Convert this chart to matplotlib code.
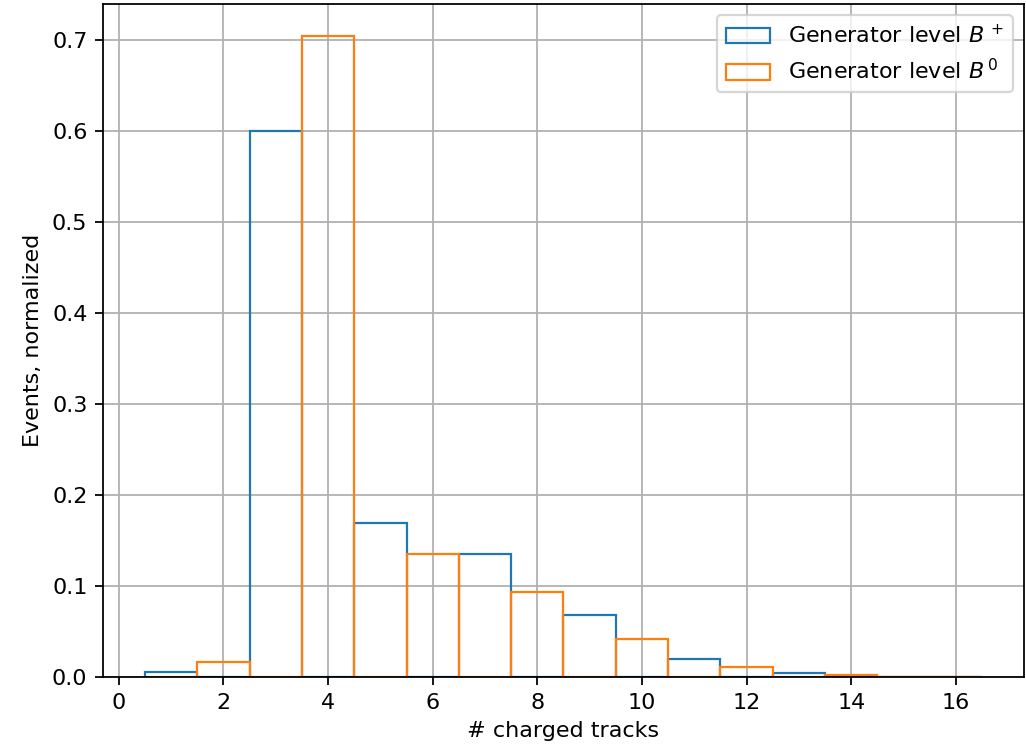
import numpy as np
import matplotlib
matplotlib.use("Agg")
import matplotlib.pyplot as plt

# number of charged tracks (bin centres) and normalized fractions
tracks = np.arange(1, 17)
bplus = [0.005, 0.0, 0.600, 0.0, 0.169, 0.0, 0.135, 0.0, 0.068, 0.0, 0.020, 0.0, 0.004, 0.0, 0.0004, 0.0]
bzero = [0.0, 0.017, 0.0, 0.704, 0.0, 0.135, 0.0, 0.093, 0.0, 0.042, 0.0, 0.011, 0.0, 0.002, 0.0, 0.0003]

edges = np.arange(0.5, 17.5, 1)

fig = plt.figure(figsize=(6.4125, 4.6875), dpi=160)
ax = fig.add_subplot(111)
ax.hist(tracks, bins=edges, weights=bplus, histtype="step", linewidth=1.0, label="Generator level $B^{\\,+}$")
ax.hist(tracks, bins=edges, weights=bzero, histtype="step", linewidth=1.0, label="Generator level $B^{\\,0}$")
ax.set_xlabel("# charged tracks")
ax.set_ylabel("Events, normalized")
ax.grid(True)
ax.legend(loc="upper right")
fig.subplots_adjust(left=0.1004, right=0.998, top=0.9947, bottom=0.0973)
fig.savefig("out.png", dpi=160)
